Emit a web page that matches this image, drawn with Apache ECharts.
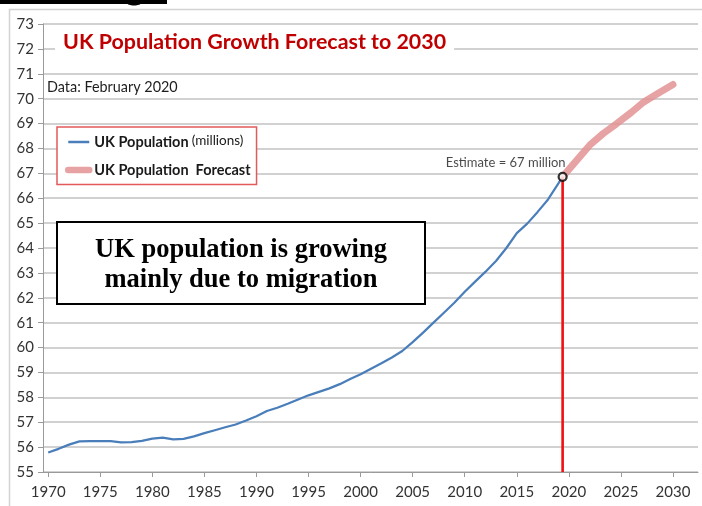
<!DOCTYPE html>
<html>
<head>
<meta charset="utf-8">
<script src="https://cdn.jsdelivr.net/npm/echarts@6/dist/echarts.min.js"></script>
<style>
  html, body { margin: 0; padding: 0; background: #ffffff; }
  #chart { width: 702px; height: 506px; }
</style>
</head>
<body>
<div id="chart"></div>
<script>
// Mid-year UK population (millions)
const popYears = [1970, 1971, 1972, 1973, 1974, 1975, 1976, 1977, 1978, 1979,
  1980, 1981, 1982, 1983, 1984, 1985, 1986, 1987, 1988, 1989,
  1990, 1991, 1992, 1993, 1994, 1995, 1996, 1997, 1998, 1999,
  2000, 2001, 2002, 2003, 2004, 2005, 2006, 2007, 2008, 2009,
  2010, 2011, 2012, 2013, 2014, 2015, 2016, 2017, 2018, 2019.4];
const popValues = [55.78, 55.93, 56.10, 56.23, 56.24, 56.24, 56.24, 56.19, 56.20, 56.25,
  56.34, 56.38, 56.31, 56.33, 56.43, 56.56, 56.68, 56.80, 56.91, 57.07,
  57.24, 57.45, 57.58, 57.74, 57.91, 58.08, 58.22, 58.36, 58.53, 58.74,
  58.93, 59.15, 59.37, 59.60, 59.86, 60.22, 60.60, 61.00, 61.40, 61.80,
  62.24, 62.65, 63.05, 63.48, 64.00, 64.60, 64.98, 65.45, 65.95, 66.86];

// Projection to 2030
const forecastYears = [2019.4, 2020.5, 2022, 2023.3, 2024.6, 2026, 2027.2, 2028.5, 2030];
const forecastValues = [66.86, 67.40, 68.13, 68.60, 69.00, 69.45, 69.87, 70.20, 70.57];

// Current estimate marker
const estimateYear = 2019.4;
const estimateValue = 66.86;
const estimateText = 'Estimate = 67 million';

const xTickLabels = [1970, 1975, 1980, 1985, 1990, 1995, 2000, 2005, 2010, 2015, 2020, 2025, 2030];

const pair = (xs, ys) => xs.map((x, i) => [x, ys[i]]);

const chart = echarts.init(document.getElementById('chart'), null, { renderer: 'canvas' });

const sansFont = 'Lato, "Open Sans", sans-serif';
const serifFont = '"Liberation Serif", "Times New Roman", serif';

chart.setOption({
  animation: false,
  backgroundColor: '#ffffff',
  textStyle: { fontFamily: sansFont },
  title: [
    {
      text: 'UK Population Growth Forecast to 2030',
      left: 55, top: 29,
      padding: [3, 8, 3, 8],
      backgroundColor: '#ffffff',
      textStyle: { fontFamily: sansFont, fontSize: 21.4, fontWeight: 'bold', color: '#c00000' }
    },
    {
      text: 'Data: February 2020',
      left: 47, top: 80,
      padding: 0,
      textStyle: { fontFamily: sansFont, fontSize: 14.4, fontWeight: 'normal', color: '#1e1e1e' }
    }
  ],
  legend: {
    orient: 'vertical',
    left: 57, top: 127,
    padding: [7, 6, 7, 8],
    itemGap: 13,
    itemWidth: 21, itemHeight: 14,
    borderColor: '#e25a5a', borderWidth: 1.5, borderRadius: 0,
    backgroundColor: '#ffffff',
    itemStyle: { opacity: 0 },
    data: [
      { name: 'UK Population', lineStyle: { width: 2.5 } },
      { name: 'UK Population Forecast', lineStyle: { width: 6.5, cap: 'round' } }
    ],
    formatter: name => name === 'UK Population'
      ? '{b|UK Population} {m|(millions)}'
      : '{b|UK Population  Forecast}',
    textStyle: {
      rich: {
        b: { fontFamily: sansFont, fontSize: 14.5, fontWeight: 'bold', color: '#1a1a1a' },
        m: { fontFamily: sansFont, fontSize: 13.5, color: '#1a1a1a', padding: [0, 0, 2, 0] }
      }
    }
  },
  grid: { left: 43, right: 4, top: 24, bottom: 34, containLabel: false },
  xAxis: {
    type: 'value',
    min: 1969.5, max: 2032.4,
    axisLine: { show: true, lineStyle: { color: '#9a9a9a', width: 1 } },
    axisTick: { show: true, length: 5, customValues: xTickLabels, lineStyle: { color: '#9a9a9a' } },
    axisLabel: {
      customValues: xTickLabels, margin: 13,
      fontFamily: sansFont, fontSize: 15, color: '#333333',
      formatter: v => String(v)
    },
    splitLine: { show: false }
  },
  yAxis: {
    type: 'value',
    min: 55, max: 73, interval: 1,
    axisLine: { show: true, lineStyle: { color: '#9a9a9a', width: 1 } },
    axisTick: { show: true, length: 5, lineStyle: { color: '#9a9a9a' } },
    axisLabel: { margin: 9, fontFamily: sansFont, fontSize: 15, color: '#333333' },
    splitLine: { show: true, lineStyle: { color: '#c2c2c2', width: 1.6 } }
  },
  series: [
    {
      name: 'UK Population',
      type: 'line',
      data: pair(popYears, popValues),
      symbol: 'none',
      lineStyle: { color: '#4a7ebb', width: 2.2 },
      itemStyle: { color: '#4a7ebb' },
      z: 3
    },
    {
      name: 'UK Population Forecast',
      type: 'line',
      data: pair(forecastYears, forecastValues),
      symbol: 'none',
      lineStyle: { color: '#e39393', width: 7, opacity: 0.85, cap: 'round' },
      itemStyle: { color: '#e39393' },
      z: 3
    },
    {
      name: 'Estimate drop line',
      type: 'line',
      data: [[estimateYear, 55], [estimateYear, estimateValue]],
      symbol: 'none',
      lineStyle: { color: '#f01010', width: 2.6 },
      z: 4
    },
    {
      name: 'Estimate',
      type: 'scatter',
      data: [[estimateYear, estimateValue]],
      symbol: 'circle',
      symbolSize: 8,
      itemStyle: { color: '#ffffff', borderColor: '#000000', borderWidth: 2.2 },
      label: {
        show: true,
        position: 'top',
        align: 'right',
        distance: 2,
        offset: [3, 0],
        formatter: () => estimateText,
        fontFamily: sansFont, fontSize: 13, color: '#1a1a1a'
      },
      z: 6
    }
  ],
  graphic: [
    // outer chart frame
    {
      type: 'rect', z: 1,
      shape: { x: 9.5, y: 9.5, width: 702, height: 510 },
      style: { fill: 'none', stroke: '#d2d2d2', lineWidth: 1.5 }
    },
    // strip of the heading above the chart
    {
      type: 'rect', z: 1,
      shape: { x: 0, y: 0, width: 167, height: 4 },
      style: { fill: '#000000' }
    },
    {
      type: 'ellipse', z: 1,
      shape: { cx: 134, cy: 3, rx: 7, ry: 2.5 },
      style: { fill: '#000000' }
    },
    // callout box
    {
      type: 'rect', z: 100,
      shape: { x: 57, y: 222, width: 368, height: 82 },
      style: { fill: '#ffffff', stroke: '#000000', lineWidth: 2 }
    },
    {
      type: 'text', z: 101,
      x: 241, y: 250,
      style: {
        text: 'UK population is growing',
        font: 'bold 26.5px ' + serifFont,
        fill: '#000000', align: 'center', verticalAlign: 'middle'
      }
    },
    {
      type: 'text', z: 101,
      x: 241, y: 280,
      style: {
        text: 'mainly due to migration',
        font: 'bold 26.5px ' + serifFont,
        fill: '#000000', align: 'center', verticalAlign: 'middle'
      }
    }
  ]
});
</script>
</body>
</html>
